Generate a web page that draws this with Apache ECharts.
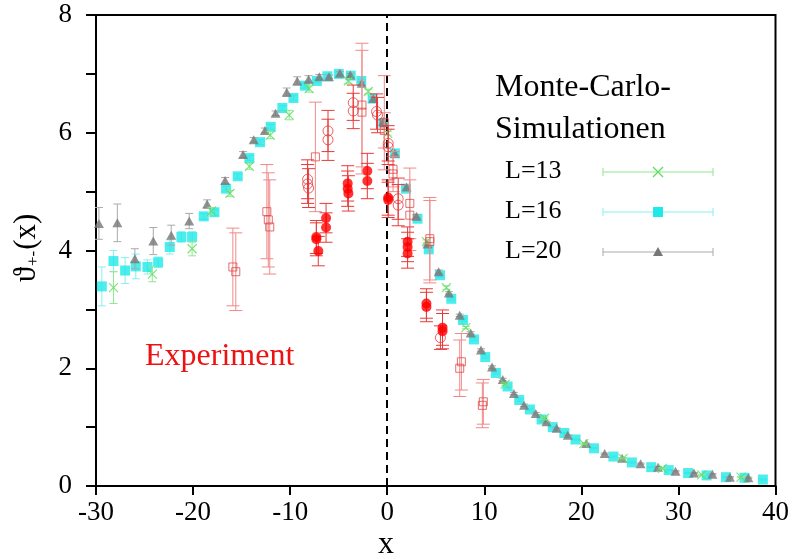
<!DOCTYPE html>
<html><head><meta charset="utf-8">
<script src="https://cdn.jsdelivr.net/npm/echarts@6/dist/echarts.min.js"></script>
<style>html,body{margin:0;padding:0;background:#fff}#c{width:792px;height:559px}</style>
</head><body><div id="c"></div>
<script>
// x ticks and y ticks
const xTicks = [-30, -20, -10, 0, 10, 20, 30, 40];
const yTicks = [0, 2, 4, 6, 8];
// Monte-Carlo simulations: [x, value, error]
const simL13 = [
  [-28.2,3.37,0.27],[-24.2,3.60,0.13],[-20.1,4.03,0.12],[-18.1,4.67,0.06],[-16.2,4.97,0.05],
  [-14.2,5.43,0.05],[-12.05,5.96,0.06],[-10.1,6.30,0.08],[-8.04,6.75,0.06],[-4.0,6.88,0.04],
  [-1.95,6.70,0.04],[0.04,5.99,0.03],[4.05,4.15,0.03],[6.1,3.37,0.03],[8.1,2.69,0.02],
  [12.15,1.73,0.02],[16.2,1.15,0.02],[20.25,0.72,0.01],[24.3,0.47,0.01],[28.35,0.30,0.01],
  [32.4,0.19,0.01],[36.45,0.15,0.01]
];
const simL16 = [
  [-29.4,3.39,0.33],[-28.2,3.82,0.18],[-27.0,3.66,0.22],[-25.9,3.73,0.21],[-24.7,3.72,0.12],
  [-23.6,3.80,0.09],[-22.4,4.06,0.12],[-21.2,4.23,0.09],[-20.1,4.23,0.09],[-18.9,4.58,0.05],
  [-17.8,4.65,0.05],[-16.6,5.05,0.04],[-15.4,5.26,0.04],[-14.2,5.57,0.04],[-13.1,5.84,0.04],
  [-12.0,6.10,0.04],[-10.8,6.42,0.04],[-9.66,6.59,0.04],[-8.49,6.80,0.04],[-7.25,6.88,0.03],
  [-6.16,6.96,0.03],[-4.99,7.00,0.03],[-3.76,6.97,0.03],[-2.67,6.88,0.03],[-1.5,6.58,0.03],
  [-0.4,6.17,0.03],[0.79,5.65,0.03],[1.92,5.05,0.03],[3.12,4.54,0.03],[4.28,4.02,0.03],
  [5.44,3.58,0.03],[6.6,3.18,0.02],[7.8,2.82,0.02],[8.94,2.49,0.02],[10.1,2.19,0.02],
  [11.2,1.92,0.02],[12.4,1.69,0.02],[13.6,1.46,0.02],[14.7,1.30,0.02],[15.9,1.13,0.02],
  [17.05,1.00,0.01],[18.25,0.90,0.01],[19.4,0.79,0.01],[21.3,0.64,0.01],[23.3,0.50,0.01],
  [25.2,0.40,0.01],[27.2,0.32,0.01],[29.0,0.27,0.01],[31.0,0.22,0.01],[32.9,0.18,0.01],
  [34.9,0.15,0.01],[36.8,0.14,0.01],[38.7,0.11,0.01]
];
const simL20 = [
  [-29.7,4.46,0.27],[-27.8,4.47,0.32],[-26.0,3.86,0.17],[-24.1,4.16,0.23],[-22.25,4.26,0.17],
  [-20.4,4.50,0.13],[-18.55,4.79,0.07],[-16.7,5.19,0.05],[-14.85,5.63,0.05],[-13.75,5.88,0.04],
  [-12.6,6.04,0.04],[-11.5,6.33,0.04],[-10.35,6.69,0.07],[-9.27,6.88,0.07],[-8.1,6.91,0.06],
  [-7.0,6.95,0.04],[-6.0,6.95,0.03],[-4.88,7.01,0.03],[-3.8,6.98,0.03],[-2.63,6.84,0.03],
  [-1.44,6.58,0.03],[-0.4,6.19,0.03],[0.79,5.65,0.03],[1.99,5.08,0.03],[3.02,4.58,0.03],
  [4.15,4.11,0.03],[5.3,3.64,0.03],[6.35,3.28,0.02],[7.47,2.90,0.02],[8.6,2.60,0.02],
  [9.66,2.31,0.02],[10.8,2.02,0.02],[11.9,1.81,0.02],[13.05,1.57,0.02],[14.1,1.37,0.02],
  [15.3,1.23,0.02],[16.4,1.09,0.01],[17.45,0.98,0.01],[18.6,0.86,0.01],[20.5,0.72,0.01],
  [22.4,0.55,0.01],[24.2,0.47,0.01],[26.1,0.38,0.01],[27.9,0.32,0.01],[29.7,0.25,0.01],
  [31.6,0.22,0.01],[33.5,0.20,0.01],[35.3,0.15,0.01],[37.2,0.14,0.01]
];
// Experiment: [x, value, error]
const expFilled = [
  [-7.3,4.23,0.28],[-7.3,4.19,0.28],[-7.1,3.99,0.25],[-6.3,4.55,0.25],[-6.3,4.39,0.25],
  [-4.07,5.14,0.3],[-4.07,5.05,0.3],[-4.0,4.97,0.3],[-2.05,5.35,0.3],[-2.05,5.18,0.3],
  [0.1,4.90,0.3],[0.1,4.86,0.3],[2.1,4.15,0.25],[2.1,4.06,0.25],[2.1,3.95,0.25],
  [4.04,3.10,0.25],[4.04,3.04,0.25],[5.7,2.69,0.3],[5.7,2.63,0.3]
];
const expOpenCircle = [
  [-8.2,5.21,0.33],[-8.2,5.13,0.33],[-8.1,5.06,0.33],[-6.1,6.03,0.35],[-6.1,5.88,0.35],
  [-3.5,6.51,0.3],[-3.5,6.37,0.3],[-1.1,6.36,0.3],[-1.0,6.30,0.3],[0.1,5.82,0.3],
  [0.1,5.76,0.3],[1.13,4.88,0.35],[1.13,4.77,0.35],[5.48,2.52,0.2]
];
const expOpenSquare = [
  [-15.9,3.72,0.66],[-15.6,3.64,0.66],[-12.4,4.66,0.8],[-12.25,4.52,0.8],[-12.1,4.40,0.8],
  [-7.4,5.59,0.93],[-2.6,6.47,1.05],[-2.6,6.35,1.05],[-0.3,6.17,0.8],[-0.3,6.04,0.3],
  [0.6,5.38,0.3],[0.6,5.30,0.3],[2.33,4.80,0.6],[2.33,4.60,0.6],[4.39,4.20,0.7],
  [4.39,4.15,0.7],[7.64,2.11,0.48],[7.47,2.00,0.48],[9.9,1.43,0.38],[9.8,1.37,0.38]
];

const FONT = 'Liberation Serif';
const C13 = '#5fdc5f', C13e = '#8fe88f';
const C16 = '#1ee8e8', C16e = '#85f0f0';
const C20 = '#777777', C20e = '#aaaaaa';
const CR = '#ff0000', CRe = '#e83a3a', CSq = '#e04848', CSqe = '#ef8a8a';

function errSeries(data, color, capHalf, z) {
  return {
    type: 'custom', z: z, silent: true,
    data: data.map(d => [d[0], d[1] - d[2], d[1] + d[2]]),
    encode: { x: 0, y: [1, 2] },
    renderItem: function (params, api) {
      const x = api.value(0);
      const lo = api.coord([x, api.value(1)]);
      const hi = api.coord([x, api.value(2)]);
      const st = { stroke: color, lineWidth: 1 };
      return { type: 'group', children: [
        { type: 'line', shape: { x1: lo[0], y1: lo[1], x2: hi[0], y2: hi[1] }, style: st },
        { type: 'line', shape: { x1: lo[0] - capHalf, y1: lo[1], x2: lo[0] + capHalf, y2: lo[1] }, style: st },
        { type: 'line', shape: { x1: hi[0] - capHalf, y1: hi[1], x2: hi[0] + capHalf, y2: hi[1] }, style: st }
      ]};
    }
  };
}
function pts(data) { return data.map(d => [d[0], d[1]]); }

const series = [
  errSeries(simL16, C16e, 4, 2),
  { type: 'scatter', z: 3, data: pts(simL16), symbol: 'rect', symbolSize: 10, itemStyle: { color: C16 } },
  errSeries(simL20, C20e, 4, 4),
  { type: 'scatter', z: 5, data: pts(simL20), symbol: 'triangle', symbolSize: [10, 9], itemStyle: { color: C20 } },
  errSeries(simL13, C13e, 4, 6),
  { type: 'scatter', z: 7, data: pts(simL13), symbol: 'path://M0,0L10,10M10,0L0,10', symbolSize: 9,
    itemStyle: { color: 'rgba(0,0,0,0)', borderColor: C13, borderWidth: 1.2 } },
  errSeries(expOpenSquare, CSqe, 6.5, 8),
  { type: 'scatter', z: 9, data: pts(expOpenSquare), symbol: 'rect', symbolSize: 8,
    itemStyle: { color: 'rgba(0,0,0,0)', borderColor: CSq, borderWidth: 1 } },
  errSeries(expOpenCircle, CRe, 6.5, 10),
  { type: 'scatter', z: 11, data: pts(expOpenCircle), symbol: 'circle', symbolSize: 10,
    itemStyle: { color: 'rgba(0,0,0,0)', borderColor: CRe, borderWidth: 1 } },
  errSeries(expFilled, CRe, 6.5, 12),
  { type: 'scatter', z: 13, data: pts(expFilled), symbol: 'circle', symbolSize: 10, itemStyle: { color: CR },
    markLine: { silent: true, symbol: 'none', label: { show: false }, animation: false,
      lineStyle: { color: '#000', type: [8, 5], width: 2 }, data: [{ xAxis: 0 }] } }
];

// legend graphics
const legRows = [
  { label: 'L=13', y: 172, line: C13e, kind: 'x', color: C13 },
  { label: 'L=16', y: 212, line: C16e, kind: 'sq', color: C16 },
  { label: 'L=20', y: 252, line: C20e, kind: 'tri', color: C20 }
];
const graphic = [
  { type: 'text', left: 495, top: 72, style: { text: 'Monte-Carlo-', font: '32px ' + FONT, fill: '#000' } },
  { type: 'text', left: 495, top: 114, style: { text: 'Simulationen', font: '32px ' + FONT, fill: '#000' } },
  { type: 'text', left: 145, top: 341, style: { text: 'Experiment', font: '32px ' + FONT, fill: '#ee1111' } },
  { type: 'text', x: 386, y: 545, style: { text: 'x', font: '32px ' + FONT, fill: '#000', align: 'center', verticalAlign: 'middle' } },
  { type: 'text', x: 27, y: 248, rotation: Math.PI / 2,
    style: { text: '{a|ϑ}{s|+-}{a|(x)}', align: 'center', verticalAlign: 'middle',
      rich: { a: { font: '31px ' + FONT, fill: '#000' }, s: { font: '17px ' + FONT, fill: '#000', verticalAlign: 'bottom', padding: [12, 1, 0, 1] } } } }
];
legRows.forEach(r => {
  graphic.push({ type: 'text', left: 505, top: r.y - 14, style: { text: r.label, font: '26px ' + FONT, fill: '#000' } });
  graphic.push({ type: 'line', shape: { x1: 603, y1: r.y, x2: 713, y2: r.y }, style: { stroke: r.line, lineWidth: 1 } });
  graphic.push({ type: 'line', shape: { x1: 603, y1: r.y - 4, x2: 603, y2: r.y + 4 }, style: { stroke: r.line, lineWidth: 1 } });
  graphic.push({ type: 'line', shape: { x1: 713, y1: r.y - 4, x2: 713, y2: r.y + 4 }, style: { stroke: r.line, lineWidth: 1 } });
  if (r.kind === 'x') {
    graphic.push({ type: 'line', shape: { x1: 653, y1: r.y - 5, x2: 663, y2: r.y + 5 }, style: { stroke: r.color, lineWidth: 1.2 } });
    graphic.push({ type: 'line', shape: { x1: 653, y1: r.y + 5, x2: 663, y2: r.y - 5 }, style: { stroke: r.color, lineWidth: 1.2 } });
  } else if (r.kind === 'sq') {
    graphic.push({ type: 'rect', shape: { x: 653, y: r.y - 5, width: 10, height: 10 }, style: { fill: r.color } });
  } else {
    graphic.push({ type: 'polygon', shape: { points: [[653, r.y + 4], [663, r.y + 4], [658, r.y - 5]] }, style: { fill: r.color } });
  }
});

const chart = echarts.init(document.getElementById('c'));
chart.setOption({
  animation: false,
  backgroundColor: '#fff',
  grid: { left: 96, right: 15, top: 15, bottom: 73, show: true, borderColor: '#000', borderWidth: 2 },
  xAxis: {
    type: 'value', min: xTicks[0], max: xTicks[xTicks.length - 1], interval: 10,
    axisLine: { show: true, onZero: false, lineStyle: { color: '#000', width: 2 } },
    axisTick: { show: true, length: 9, lineStyle: { color: '#000', width: 2 } },
    axisLabel: { fontFamily: FONT, fontSize: 27, color: '#000', margin: 13,
      formatter: v => (xTicks.indexOf(v) >= 0 ? String(v) : '') },
    splitLine: { show: false }
  },
  yAxis: {
    type: 'value', min: 0, max: yTicks[yTicks.length - 1], interval: 1,
    axisLine: { show: true, onZero: false, lineStyle: { color: '#000', width: 2 } },
    axisTick: { show: true, length: 10, lineStyle: { color: '#000', width: 2 } },
    axisLabel: { fontFamily: FONT, fontSize: 27, color: '#000', margin: 24,
      formatter: v => (yTicks.indexOf(v) >= 0 ? String(v) : '') },
    splitLine: { show: false }
  },
  graphic: graphic,
  series: series
});
</script></body></html>
